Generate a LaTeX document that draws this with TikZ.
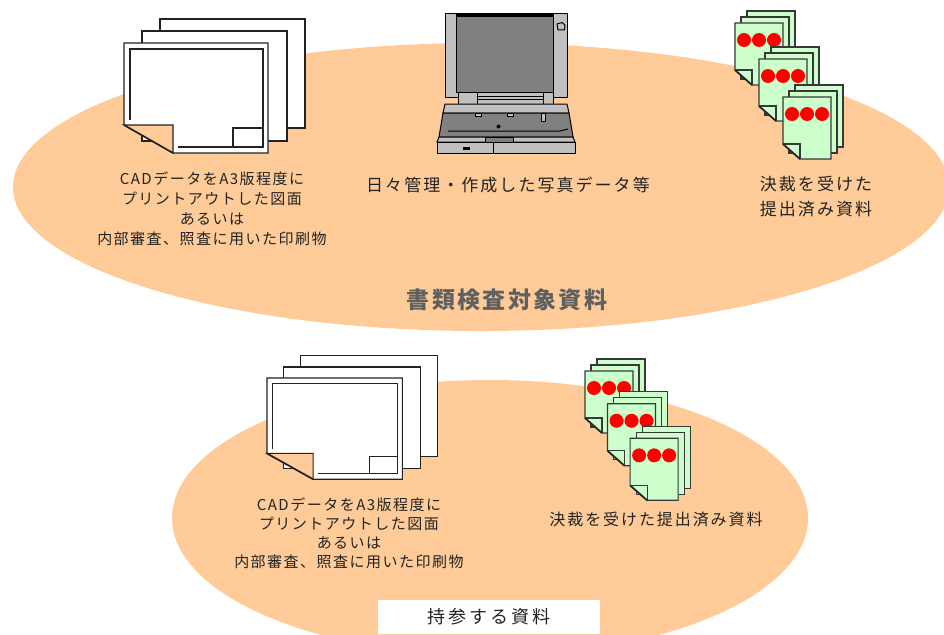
\documentclass[tikz,border=0pt]{standalone}
\usepackage{fontspec}
\newfontfamily\jpsmall[LetterSpace=10]{Noto Sans CJK JP}
\newfontfamily\jpmid[LetterSpace=12]{Noto Sans CJK JP}
\newfontfamily\jptitle[LetterSpace=10]{Noto Sans CJK JP}
\newfontfamily\jpcarry[LetterSpace=16]{Noto Sans CJK JP}

\definecolor{blob}{RGB}{255,204,153}
\definecolor{stampgreen}{RGB}{204,255,204}
\definecolor{lgray}{RGB}{192,192,192}
\definecolor{dgray}{RGB}{128,128,128}
\definecolor{ink}{RGB}{34,34,34}
\definecolor{titlegray}{RGB}{96,96,96}

\tikzset{
  sheet/.style={draw=ink, line width=1.1pt, fill=white, line join=miter},
  frameline/.style={draw=ink, line width=1.3pt},
  stamp/.style={draw=ink!90, line width=1.2pt, fill=stampgreen},
  lapline/.style={draw=black, line width=1pt},
  lblsmall/.style={font=\jpsmall\fontsize{15}{20}\selectfont, text=ink, align=center, inner sep=0pt},
  lblsmallb/.style={font=\jpsmall\fontsize{15}{19}\selectfont, text=ink, align=center, inner sep=0pt},
  lblmid/.style={font=\jpmid\fontsize{17}{25}\selectfont, text=ink, align=center, inner sep=0pt},
  % stack of three printed drawings, front sheet with a folded corner
  pics/drawingstack/.style={code={
    \draw[sheet] (36,-24) rectangle (181,85);
    \draw[sheet] (18,-12) rectangle (163,98);
    \draw[sheet] (0,0) -- (144,0) -- (144,110) -- (49,110) -- (0,82) -- cycle;
    \draw[sheet, fill=blob] (0,82) -- (49,82) -- (49,110) -- cycle;
    \draw[ink, line width=1.6pt] (0,82) -- (49,110);
    \draw[frameline] (6,77) -- (6,6) -- (139,6) -- (139,104) -- (54,104);
    \draw[frameline] (109,104) -- (109,85) -- (139,85);
  }},
  % one approved document: three sheets with red stamps
  pics/stampgroup/.style={code={
    \draw[stamp] (12,-12) rectangle (60,50);
    \draw[stamp] (6,-6) rectangle (54,56);
    \draw[stamp] (0,0) -- (48,0) -- (48,62) -- (17,62) -- (0,47) -- cycle;
    \draw[stamp] (0,47) -- (17,47) -- (17,62);
    \draw[ink, line width=1.7pt] (0,47) -- (17,62);
    \fill[red] (9,17) circle (7) (24,17) circle (7) (39,17) circle (7);
  }},
  pics/stampstack/.style={code={
    \pic at (0,0) {stampgroup};
    \pic at (24,36) {stampgroup};
    \pic at (48,74) {stampgroup};
  }},
}

\begin{document}
\begin{tikzpicture}[x=1pt,y=-1pt]
\useasboundingbox (0,0) rectangle (944,634);

% background areas
\fill[blob] (481,187) ellipse [x radius=468, y radius=144];
\fill[blob] (490,518) ellipse [x radius=318, y radius=138];

% ---- upper group ----
\pic at (124,43) {drawingstack};

% notebook computer
\draw[lapline, fill=lgray] (445,14) rectangle (567,97);
\draw[lapline, fill=dgray] (456,15) rectangle (553,92);
\draw[line width=2.6pt] (456,15.3) -- (553,15.3);
\draw[lapline, fill=lgray] (557,24) -- (562,22.5) -- (565,25) -- (564.5,30) -- (558,30) -- cycle;
\draw[lapline, fill=lgray] (477,96) rectangle (543,104);
\draw[lapline] (477,99.5) -- (543,99.5);
\draw[lapline, fill=lgray] (458,92) rectangle (477,104);
\draw[lapline, fill=lgray] (543,92) rectangle (553,104);
\draw[lapline, fill=lgray] (445,104) -- (567,104) -- (569,113) -- (443,113) -- cycle;
\draw[lapline, fill=dgray] (443,113) -- (569,113) -- (573,137) -- (439,137) -- cycle;
\draw[lapline, fill=lgray] (475,113) rectangle (481,116);
\draw[lapline, fill=lgray] (507,113) rectangle (513,116);
\draw[lapline, fill=lgray] (541,113) rectangle (545,121);
\draw[lapline] (448,131) -- (560,131) -- (568,129);
\fill (498.5,126.5) circle (2);
\draw[lapline, fill=lgray] (439,137) -- (573,137) -- (575,142) -- (437,142) -- cycle;
\draw[lapline, fill=dgray] (485,137) rectangle (513,142);
\draw[lapline, fill=lgray] (437,142) rectangle (575,153);
\draw[lapline] (493,142) -- (493,153);
\fill (463,147) rectangle (470,149.5);

\pic at (735,23) {stampstack};

\node[lblsmall] (cadtop) at (212,209)
  {CADデータをA3版程度に\\プリントアウトした図面\\あるいは\\内部審査、照査に用いた印刷物};
\node[lblmid] (photo) at (508,185) {日々管理・作成した写真データ等};
\node[lblmid] (approvedtop) at (816,197) {決裁を受けた\\提出済み資料};
\node[font=\jptitle\bfseries\fontsize{23}{28}\selectfont, text=titlegray, inner sep=0pt]
  (scope) at (507,300) {書類検査対象資料};

% ---- lower group ----
\pic[xscale=0.94, yscale=0.92] at (267,378) {drawingstack};
\pic[xscale=0.94, yscale=0.91] at (585,371) {stampstack};

\node[lblsmallb] (cadbot) at (349,533)
  {CADデータをA3版程度に\\プリントアウトした図面\\あるいは\\内部審査、照査に用いた印刷物};
\node[font=\jpmid\fontsize{16}{20}\selectfont, text=ink, inner sep=0pt]
  (approvedbot) at (656,519) {決裁を受けた提出済み資料};

\node[fill=white, minimum width=222pt, minimum height=34pt, inner sep=0pt,
      font=\jpcarry\fontsize{18}{22}\selectfont, text=ink]
  (carry) at (489,617) {持参する資料};
\end{tikzpicture}
\end{document}
